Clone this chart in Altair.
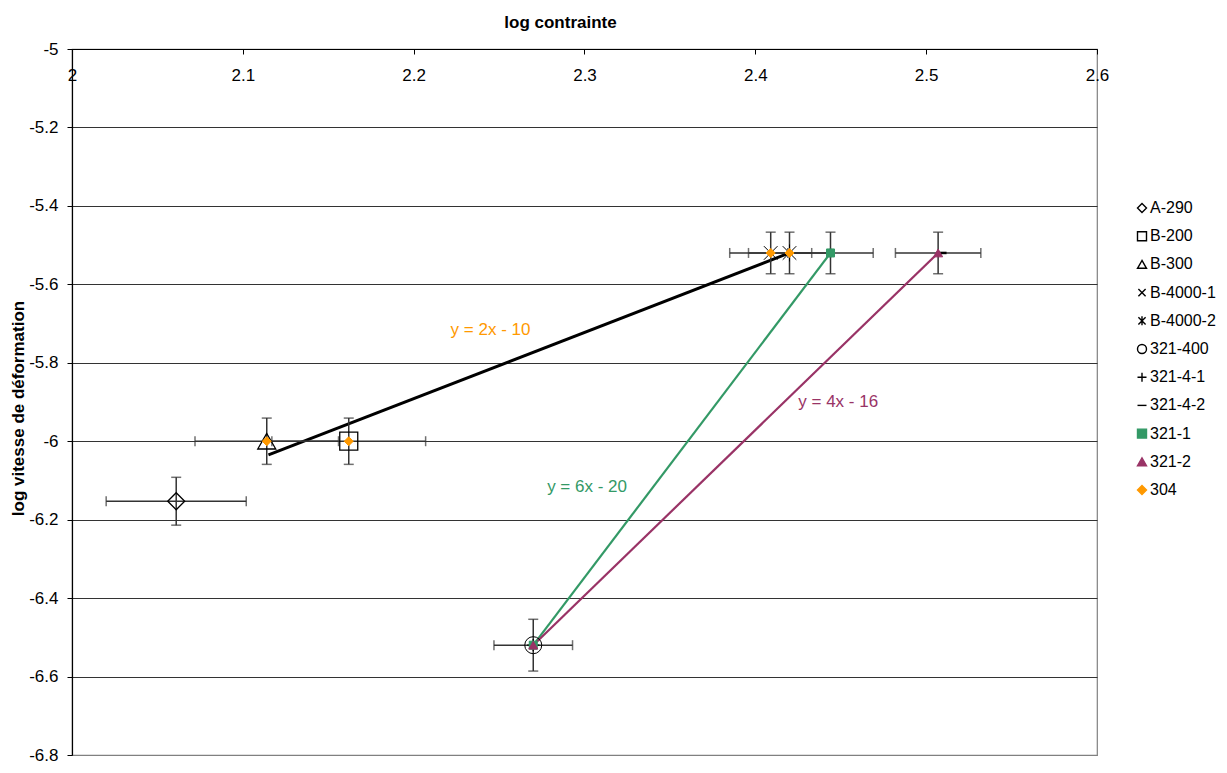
import altair as alt
import pandas as pd

# ---------------- data ----------------
series_names = ["A-290", "B-200", "B-300", "B-4000-1", "B-4000-2", "321-400",
                "321-4-1", "321-4-2", "321-1", "321-2", "304"]
series_shapes = ["diamond", "square", "triangle-up",
                 "M-0.8,-0.8L0.8,0.8M-0.8,0.8L0.8,-0.8",
                 "M-0.8,-0.8L0.8,0.8M-0.8,0.8L0.8,-0.8M0,-1L0,1",
                 "circle", "M-1,0L1,0M0,-1L0,1", "M-1,0L1,0",
                 "square", "triangle-up", "diamond"]
series_stroke = ["#000000"] * 8 + ["#339966", "#993366", "#FF9900"]
series_fill = ["transparent"] * 8 + ["#339966", "#993366", "#FF9900"]
series_size = [289, 324, 324, 289, 289, 289, 150, 100, 64, 81, 81]
series_sw = [1.3, 1.3, 1.3, 1.0, 1.0, 1.0, 1.3, 2.5, 1, 1, 1]

# points
pt_series = ["A-290", "B-200", "B-300", "B-4000-1", "B-4000-2", "321-400",
             "321-4-1", "321-4-2", "321-1", "321-1", "321-2", "321-2",
             "304", "304", "304", "304"]
pt_x = [2.061, 2.162, 2.114, 2.409, 2.420, 2.270,
        2.270, 2.509, 2.270, 2.444, 2.270, 2.507,
        2.114, 2.162, 2.409, 2.420]
pt_y = [-6.153, -6.0, -6.0, -5.52, -5.52, -6.52,
        -6.52, -5.52, -6.52, -5.52, -6.52, -5.52,
        -6.0, -6.0, -5.52, -5.52]

# error bars
eb_x = [2.061, 2.114, 2.162, 2.409, 2.420, 2.444, 2.507, 2.270]
eb_y = [-6.153, -6.0, -6.0, -5.52, -5.52, -5.52, -5.52, -6.52]
eb_ex = [0.041, 0.042, 0.045, 0.024, 0.024, 0.025, 0.025, 0.023]
eb_ey = [0.061, 0.059, 0.059, 0.053, 0.053, 0.053, 0.053, 0.066]

# trend lines
tl_id = ["noir", "noir", "vert", "vert", "violet", "violet"]
tl_x = [2.115, 2.420, 2.270, 2.444, 2.270, 2.507]
tl_y = [-6.035, -5.52, -6.52, -5.52, -6.52, -5.52]
tl_names = ["noir", "vert", "violet"]
tl_colors = ["#000000", "#339966", "#993366"]
tl_widths = [3.0, 2.2, 2.2]

# trend equations
lab_text = ["y = 2x - 10", "y = 6x - 20", "y = 4x - 16"]
lab_x = [2.245, 2.3015, 2.4485]
lab_y = [-5.716, -6.116, -5.90]
lab_color = ["#FF9900", "#339966", "#993366"]

x_ticks = [2.0, 2.1, 2.2, 2.3, 2.4, 2.5, 2.6]
y_ticks = [-5.0, -5.2, -5.4, -5.6, -5.8, -6.0, -6.2, -6.4, -6.6, -6.8]

# ---------------- chart ----------------
W, H = 1025, 706
FONT = "Liberation Sans"

xscale = alt.Scale(domain=[2.0, 2.6], nice=False, zero=False)
yscale = alt.Scale(domain=[-6.8, -5.0], nice=False, zero=False)

xaxis = alt.Axis(orient="bottom", offset=-H, values=x_ticks,
                 labelExpr="format(datum.value, '.1~f')",
                 labelFlush=False, labelOverlap=False, labelBound=False,
                 grid=False, tickSize=5, tickColor="#000", tickWidth=1,
                 domainColor="#000", domainWidth=1.2,
                 labelFont=FONT, labelFontSize=17, labelColor="#000",
                 labelPadding=13, title=None)
yaxis = alt.Axis(values=y_ticks,
                 labelExpr="(datum.value < 0 ? '-' : '') + format(abs(datum.value), '.1~f')",
                 labelFlush=False, labelOverlap=False, labelBound=False,
                 grid=True,
                 gridColor={"condition": {"test": "datum.value < -6.79", "value": "#808080"},
                            "value": "#333333"},
                 gridWidth=1.2,
                 tickSize=5, tickColor="#000", domainColor="#000", domainWidth=1.2,
                 labelFont=FONT, labelFontSize=17, labelColor="#000", labelPadding=9,
                 title="log vitesse de déformation", titleFont=FONT, titleFontSize=17,
                 titleFontWeight="bold", titleColor="#000",
                 titleX=-54, titleY=H / 2 + 6, titleAngle=270,
                 titleAlign="center", titleBaseline="middle")


def X(f):
    return alt.X(f, type="quantitative", scale=xscale, axis=xaxis)


def Y(f):
    return alt.Y(f, type="quantitative", scale=yscale, axis=yaxis)


pts = pd.DataFrame({"series": pt_series, "x": pt_x, "y": pt_y})
style = pd.DataFrame({"series": series_names, "sz": series_size, "sw": series_sw})
ebs = pd.DataFrame({"x": eb_x, "y": eb_y, "ex": eb_ex, "ey": eb_ey})
tls = pd.DataFrame({"id": tl_id, "x": tl_x, "y": tl_y})
labs = pd.DataFrame({"t": lab_text, "x": lab_x, "y": lab_y, "c": lab_color})

trend = alt.Chart(tls).mark_line().encode(
    x=X("x"), y=Y("y"),
    detail="id:N",
    color=alt.Color("id:N", scale=alt.Scale(domain=tl_names, range=tl_colors), legend=None),
    strokeWidth=alt.StrokeWidth("id:N", scale=alt.Scale(type="ordinal", domain=tl_names,
                                                        range=tl_widths), legend=None),
)

eb_base = alt.Chart(ebs).transform_calculate(
    xlo="datum.x - datum.ex", xhi="datum.x + datum.ex",
    ylo="datum.y - datum.ey", yhi="datum.y + datum.ey")

hbar = eb_base.mark_rule(color="#333333", strokeWidth=1.5).encode(
    x=X("xlo"), x2="xhi", y=Y("y"))
vbar = eb_base.mark_rule(color="#333333", strokeWidth=1.5).encode(
    x=X("x"), y=Y("ylo"), y2="yhi")
hcaps = eb_base.transform_fold(["xlo", "xhi"], as_=["k", "v"]).mark_tick(
    orient="vertical", color="#333333", size=10, thickness=1.5).encode(
    x=X("v"), y=Y("y"))
vcaps = eb_base.transform_fold(["ylo", "yhi"], as_=["k", "v"]).mark_tick(
    orient="horizontal", color="#333333", size=10, thickness=1.5).encode(
    x=X("x"), y=Y("v"))

leg = alt.Legend(orient="none", legendX=1062, legendY=151, title=None,
                 labelFont=FONT, labelFontSize=16, labelColor="#000",
                 symbolSize=81, symbolStrokeWidth=1.4, rowPadding=12.2,
                 labelOffset=0)

points = alt.Chart(pts).transform_lookup(
    lookup="series", from_=alt.LookupData(style, "series", ["sz", "sw"])
).mark_point(opacity=1).encode(
    x=X("x"), y=Y("y"),
    shape=alt.Shape("series:N", scale=alt.Scale(domain=series_names, range=series_shapes),
                    legend=leg, title=None),
    stroke=alt.Stroke("series:N", scale=alt.Scale(domain=series_names, range=series_stroke),
                      legend=leg, title=None),
    fill=alt.Fill("series:N", scale=alt.Scale(domain=series_names, range=series_fill),
                  legend=leg, title=None),
    size=alt.Size("sz:Q", scale=None),
    strokeWidth=alt.StrokeWidth("sw:Q", scale=None),
)

texts = alt.Chart(labs).mark_text(font=FONT, fontSize=17, align="center", baseline="middle").encode(
    x=X("x"), y=Y("y"),
    text="t:N",
    color=alt.Color("c:N", scale=None),
)

chart = alt.layer(trend, hbar, vbar, hcaps, vcaps, points, texts).resolve_scale(
    color="independent", strokeWidth="independent"
).properties(
    width=W, height=H,
    autosize=alt.AutoSizeParams(type="none"),
    padding={"left": 64, "top": 41, "right": 122, "bottom": 9},
    title=alt.TitleParams("log contrainte", font=FONT, fontSize=17, fontWeight="bold",
                          color="#000", anchor="middle", frame="group", dx=-24, dy=-4),
).configure_view(stroke="#808080", strokeWidth=1.2)

chart.save("out.html", embed_options={"renderer": "svg", "actions": False})
